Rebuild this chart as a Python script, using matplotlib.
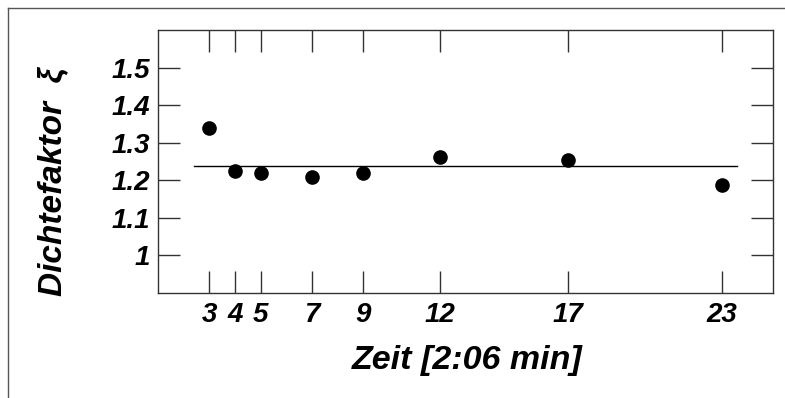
import numpy as np
import matplotlib
matplotlib.use("Agg")
import matplotlib.pyplot as plt
from matplotlib.lines import Line2D

# Zeitpunkte (Einheiten von 2:06 min) und Dichtefaktor
zeit = [3, 4, 5, 7, 9, 12, 17, 23]
dichte = [1.340, 1.224, 1.219, 1.208, 1.218, 1.261, 1.254, 1.186]
y_ticks = [1.0, 1.1, 1.2, 1.3, 1.4, 1.5]
y_ticklabels = ["1", "1.1", "1.2", "1.3", "1.4", "1.5"]
mittel_x = [2.4, 23.6]

plt.rcParams['font.family'] = ['Liberation Sans', 'DejaVu Sans']

fig = plt.figure(figsize=(7.85, 3.98), dpi=100)
ax = fig.add_axes([158 / 785, 1 - 292.7 / 398, 615 / 785, 262.7 / 398])

# Mittelwertlinie
mittel = np.mean(dichte)
ax.plot(mittel_x, [mittel, mittel], color='black', lw=1.0)
ax.plot(zeit, dichte, 'o', color='black', markersize=9.5)

ax.set_xlim(1, 25)
ax.set_ylim(0.9, 1.6)
ax.set_xticks(zeit)
ax.set_xticklabels([str(z) for z in zeit])
ax.set_yticks(y_ticks)
ax.set_yticklabels(y_ticklabels)

ax.tick_params(axis='both', direction='in', length=15.8, width=1.0,
               top=True, right=True, color='#333333')
ax.tick_params(axis='x', pad=7)
ax.tick_params(axis='y', pad=6)
for lab in ax.get_xticklabels():
    lab.set_fontsize(20)
    lab.set_fontweight('bold')
    lab.set_fontstyle('italic')
for lab in ax.get_yticklabels():
    lab.set_fontsize(20)
    lab.set_fontweight('bold')
    lab.set_fontstyle('italic')
for sp in ax.spines.values():
    sp.set_color('#333333')
    sp.set_linewidth(1.0)

fig.text(467.5 / 785, 1 - 361 / 398, "Zeit [2:06 min]", fontsize=24.5,
         fontweight='bold', fontstyle='italic', ha='center', va='center')
fig.text(53 / 785, 1 - 182 / 398, "Dichtefaktor  ξ", fontsize=24,
         fontweight='bold', fontstyle='italic', ha='center', va='center',
         rotation=90)

# Rahmen (oben und links)
fig.add_artist(Line2D([7.5 / 785, 7.5 / 785], [0, 1 - 8 / 398],
                      color='#555555', lw=1.0))
fig.add_artist(Line2D([7.5 / 785, 1], [1 - 8 / 398, 1 - 8 / 398],
                      color='#555555', lw=1.0))

fig.savefig("out.png", dpi=100)
